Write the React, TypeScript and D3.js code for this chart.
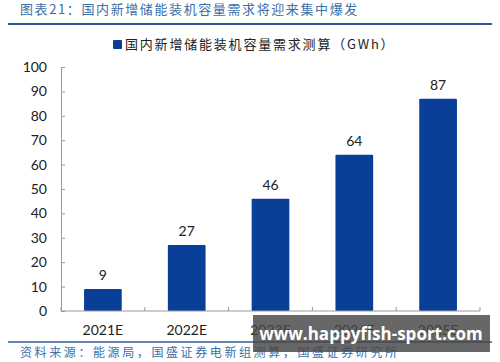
import { useEffect, useRef } from "react";
import * as d3 from "d3";

const categories = ["2021E", "2022E", "2023E", "2024E", "2025E"];
const values = [9, 27, 46, 64, 87];
const yTicks = [0, 10, 20, 30, 40, 50, 60, 70, 80, 90, 100];

const titleText = "图表21：国内新增储能装机容量需求将迎来集中爆发";
const legendText = "国内新增储能装机容量需求测算（GWh）";
const sourceText = "资料来源：能源局，国盛证券电新组测算，国盛证券研究所";
const watermark = "www.happyfish-sport.com";

const CJK = "'Noto Sans CJK SC', sans-serif";
const NUM = "Lato, 'Open Sans', sans-serif";

export default function App() {
  const svgRef = useRef<SVGSVGElement>(null);

  useEffect(() => {
    if (!svgRef.current) return;
    const width = 500;
    const height = 362;
    const svg = d3.select(svgRef.current);
    svg.selectAll("*").remove();
    svg.attr("width", width).attr("height", height);

    svg.append("rect").attr("width", width).attr("height", height).attr("fill", "#fff");

    // Header
    svg.append("text")
      .attr("x", 20)
      .attr("y", 14)
      .attr("font-family", CJK)
      .attr("font-size", "13px")
      .attr("letter-spacing", "1.6px")
      .attr("fill", "#3d6fa8")
      .text(titleText);

    svg.append("line")
      .attr("x1", 8).attr("x2", 492)
      .attr("y1", 24).attr("y2", 24)
      .attr("stroke", "#2f5a96")
      .attr("stroke-width", 2);

    // Legend
    svg.append("rect")
      .attr("x", 113).attr("y", 40)
      .attr("width", 9).attr("height", 9)
      .attr("rx", 1)
      .attr("fill", "#0a3f97");
    svg.append("text")
      .attr("x", 125)
      .attr("y", 49)
      .attr("font-family", CJK)
      .attr("font-size", "13px")
      .attr("letter-spacing", "1.8px")
      .attr("fill", "#222")
      .text(legendText);

    const margin = { left: 61, top: 67 };
    const plotW = 419;
    const plotH = 244;

    const g = svg.append("g").attr("transform", `translate(${margin.left},${margin.top})`);

    const x = d3.scaleBand().domain(categories).range([0, plotW]).paddingInner(0.55).paddingOuter(0.275);
    const y = d3.scaleLinear().domain([0, 100]).range([plotH, 0]);

    // Bars
    g.selectAll("rect.bar")
      .data(values)
      .join("rect")
      .attr("class", "bar")
      .attr("x", (_, i) => x(categories[i])!)
      .attr("y", (d) => y(d))
      .attr("width", x.bandwidth())
      .attr("height", (d) => y(0) - y(d))
      .attr("rx", 1)
      .attr("fill", "#0a3f97");

    // Value labels
    g.selectAll("text.val")
      .data(values)
      .join("text")
      .attr("class", "val")
      .attr("x", (_, i) => x(categories[i])! + x.bandwidth() / 2)
      .attr("y", (d) => y(d) - 9)
      .attr("text-anchor", "middle")
      .attr("font-family", NUM)
      .attr("font-size", "14px")
      .attr("fill", "#222")
      .text((d) => String(d));

    // Y axis
    const yAxis = g.append("g").call(
      d3.axisLeft(y).tickValues(yTicks).tickSize(-4).tickPadding(14)
    );
    yAxis.select(".domain").attr("stroke", "#999");
    yAxis.selectAll(".tick line").attr("stroke", "#999");
    yAxis.selectAll(".tick text")
      .attr("font-family", NUM)
      .attr("font-size", "14px")
      .attr("fill", "#222");

    // X axis
    const xAxis = g.append("g").attr("transform", `translate(0,${y(0)})`);
    xAxis.append("line")
      .attr("x1", 0).attr("x2", plotW)
      .attr("y1", 0).attr("y2", 0)
      .attr("stroke", "#999");
    const step = x.step();
    d3.range(categories.length + 1).forEach((i) => {
      const tx = x(categories[0])! - (step - x.bandwidth()) / 2 + i * step;
      xAxis.append("line")
        .attr("x1", tx).attr("x2", tx)
        .attr("y1", 0).attr("y2", -4)
        .attr("stroke", "#999");
    });
    xAxis.selectAll("text.xl")
      .data(categories)
      .join("text")
      .attr("class", "xl")
      .attr("x", (d) => x(d)! + x.bandwidth() / 2)
      .attr("y", 24)
      .attr("text-anchor", "middle")
      .attr("font-family", NUM)
      .attr("font-size", "14px")
      .attr("fill", "#222")
      .text((d) => d);

    // Footer
    svg.append("line")
      .attr("x1", 8).attr("x2", 492)
      .attr("y1", 342).attr("y2", 342)
      .attr("stroke", "#2f5a96")
      .attr("stroke-width", 1.5);
    svg.append("text")
      .attr("x", 20)
      .attr("y", 357)
      .attr("font-family", CJK)
      .attr("font-size", "12px")
      .attr("letter-spacing", "2.6px")
      .attr("fill", "#3d6fa8")
      .text(sourceText);

    // Watermark overlay
    svg.append("rect")
      .attr("x", 253).attr("y", 315)
      .attr("width", 237).attr("height", 37)
      .attr("fill", "rgba(70,70,70,0.82)");
    svg.append("text")
      .attr("x", 371)
      .attr("y", 340)
      .attr("text-anchor", "middle")
      .attr("font-family", "'Open Sans', sans-serif")
      .attr("font-weight", "700")
      .attr("font-size", "17px")
      .attr("fill", "#fff")
      .text(watermark);
  }, []);

  return (
    <svg
      ref={svgRef}
      style={{ position: "absolute", left: 0, top: 0, display: "block" }}
    />
  );
}
